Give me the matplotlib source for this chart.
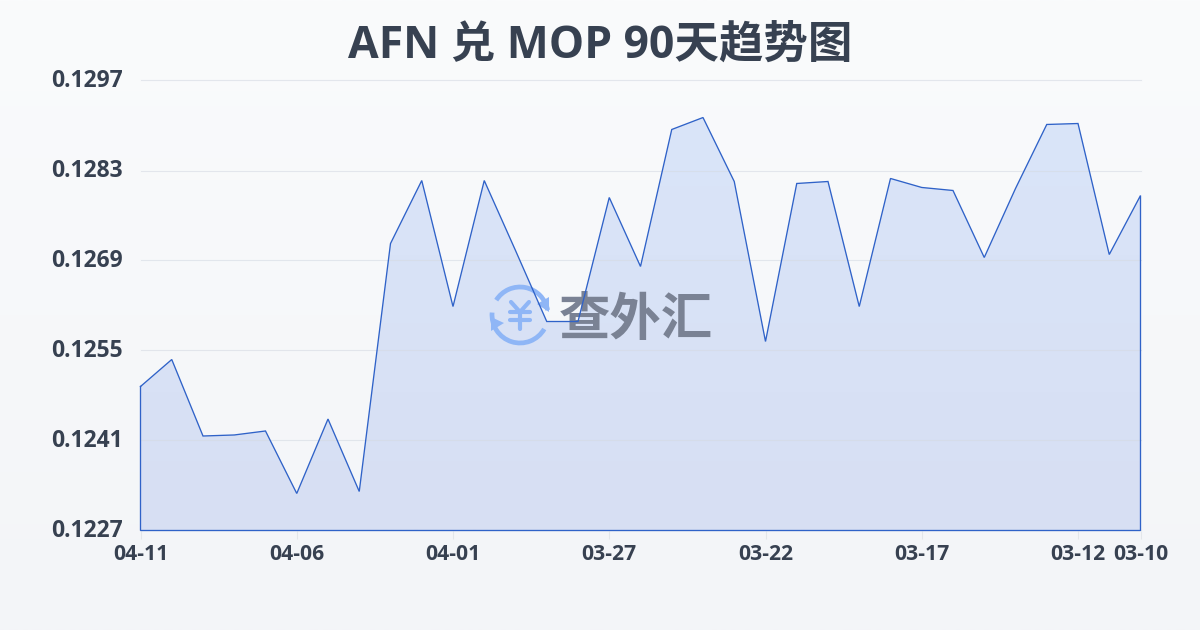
import numpy as np
import matplotlib
matplotlib.use('Agg')
import matplotlib.pyplot as plt
from matplotlib.colors import LinearSegmentedColormap
from matplotlib.patches import Arc, Polygon
from matplotlib.transforms import ScaledTranslation

plt.rcParams['font.family'] = ['Noto Sans CJK SC', 'DejaVu Sans']
latin = ['Open Sans', 'Noto Sans CJK SC', 'DejaVu Sans']

# values, newest first like the original x axis
rates = [0.12494, 0.12536, 0.12417, 0.124186, 0.124248, 0.123276, 0.124434, 0.123307,
         0.127164, 0.128144, 0.126184, 0.128144, 0.127056, 0.125951, 0.125951, 0.12788,
         0.126807, 0.128938, 0.129124, 0.128129, 0.12564, 0.128098, 0.128129, 0.126184,
         0.128176, 0.128036, 0.127989, 0.126947, 0.12802, 0.129016, 0.129031, 0.126993,
         0.127911]
x_tick_pos = [0, 5, 10, 15, 20, 25, 30, 32]
x_tick_labels = ['04-11', '04-06', '04-01', '03-27', '03-22', '03-17', '03-12', '03-10']
y_ticks = [0.1227, 0.1241, 0.1255, 0.1269, 0.1283, 0.1297]
y_tick_labels = ['0.1227', '0.1241', '0.1255', '0.1269', '0.1283', '0.1297']

text_color = '#374151'
line_color = '#2f62c8'
logo_color = '#8fb6f6'

fig = plt.figure(figsize=(12, 6.3), dpi=100)

# page background gradient
bg = fig.add_axes([0, 0, 1, 1], zorder=0)
bg.imshow(np.linspace(0, 1, 256).reshape(-1, 1),
          cmap=LinearSegmentedColormap.from_list('bg', ['#fafbfc', '#f3f5f8']),
          aspect='auto', extent=[0, 1200, 630, 0])
bg.set_axis_off()

# pixel overlay, only used as a coordinate system for title and watermark
top = fig.add_axes([0, 0, 1, 1], zorder=2)
top.set_xlim(0, 1200)
top.set_ylim(630, 0)
top.set_axis_off()
top.patch.set_alpha(0)

# plot area 140.5..1140.5 x 80.5..530.5 px
ax = fig.add_axes([140.5 / 1200, 99.5 / 630, 1000 / 1200, 450 / 630], zorder=3)
ax.patch.set_alpha(0)
x = np.arange(len(rates))
ax.set_xlim(0, len(rates) - 1)
ax.set_ylim(y_ticks[0], y_ticks[-1])

# area fill with a faint vertical gradient
outline = np.column_stack([np.r_[x, x[-1], x[0]], rates + [y_ticks[0], y_ticks[0]]])
clip = Polygon(outline, closed=True, transform=ax.transData, fc='none', ec='none')
ax.add_patch(clip)
grad = ax.imshow(np.linspace(0, 1, 256).reshape(-1, 1),
                 cmap=LinearSegmentedColormap.from_list('fill', ['#dae5f9', '#d7dff3']),
                 aspect='auto', zorder=1,
                 extent=[0, len(rates) - 1, y_ticks[0], max(rates)])
grad.set_clip_path(clip)

ax.plot(np.r_[x, x[-1], x[0], x[0]], rates + [y_ticks[0], y_ticks[0], rates[0]],
        color=line_color, lw=0.95, zorder=5, clip_on=False, solid_joinstyle='miter')
ax.set_yticks(y_ticks)
ax.set_yticklabels(y_tick_labels, fontsize=16.5, fontweight='bold', color=text_color, fontfamily=latin)
ax.set_xticks(x_tick_pos)
ax.set_xticklabels(x_tick_labels, fontsize=15.2, fontweight='bold', color=text_color, fontfamily=latin)
ax.tick_params(axis='y', length=0, pad=12.5)
ax.tick_params(axis='x', length=6, width=0.8, color='#e3e6ea', pad=3.5)
# y labels sit about 2px above their grid lines
for lab in ax.get_yticklabels():
    lab.set_transform(lab.get_transform() + ScaledTranslation(0, 2 / 72, fig.dpi_scale_trans))
ax.grid(axis='y', color='#d5dae3', lw=0.8, alpha=0.6, zorder=2)
ax.set_axisbelow(False)
# the top grid line lies on the axes edge, keep it from being clipped away
for gl in ax.get_ygridlines():
    gl.set_clip_on(False)
for s in ax.spines.values():
    s.set_visible(False)

px = top.transData
top.text(600, 46, 'AFN 兑 MOP 90天趋势图', fontsize=32, fontweight='bold', color=text_color,
         ha='center', va='center', fontfamily=latin)

# watermark sits over the fill but under the line
ax.text(636, 319, '查外汇', fontsize=37, fontweight='bold', color='#7a8294', ha='center', va='center',
        transform=px, zorder=3, clip_on=False)
ax.add_patch(Arc((520, 315), 56, 56, theta1=30, theta2=185, color=logo_color, lw=3.4, transform=px, zorder=3))
ax.add_patch(Arc((520, 315), 56, 56, theta1=212, theta2=350, color=logo_color, lw=3.4, transform=px, zorder=3))
ax.add_patch(Polygon([(549, 297), (549, 312), (537, 304)], color=logo_color, lw=0, transform=px, zorder=3))
ax.add_patch(Polygon([(491, 317), (491, 331), (504, 323)], color=logo_color, lw=0, transform=px, zorder=3))
for xs, ys in [([511, 520, 529], [302, 312, 302]), ([510, 530], [312, 312]), ([510, 530], [320, 320]), ([520, 520], [312, 329])]:
    ax.plot(xs, ys, color=logo_color, lw=3, transform=px, zorder=3, solid_capstyle='round',
            solid_joinstyle='round', clip_on=False)

# imshow and the px-space artists must not move the data limits
ax.set_xlim(0, len(rates) - 1)
ax.set_ylim(y_ticks[0], y_ticks[-1])

fig.savefig('out.png', dpi=100)
